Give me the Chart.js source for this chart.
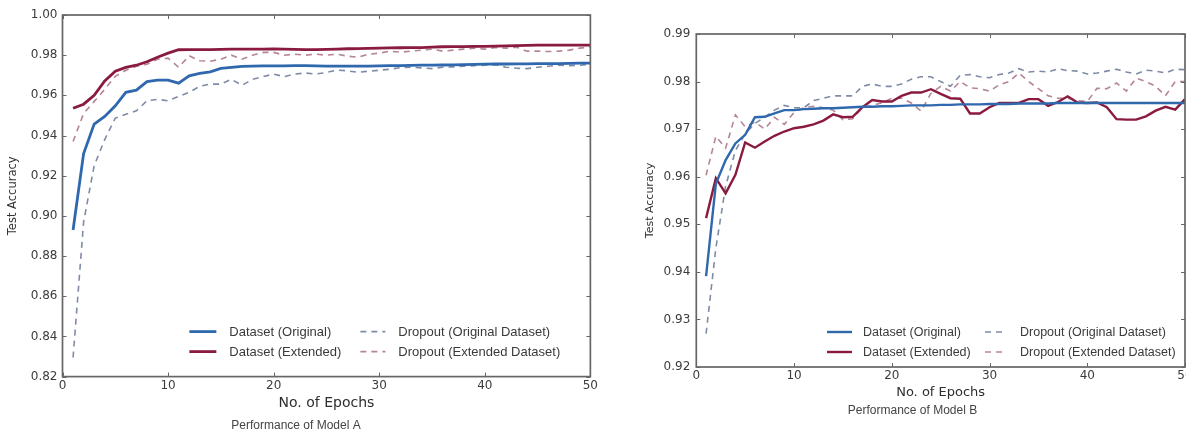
<!DOCTYPE html>
<html>
<head>
<meta charset="utf-8">
<script src="https://cdn.jsdelivr.net/npm/chart.js@4.4.1/dist/chart.umd.min.js"></script>
<style>
html, body { margin: 0; padding: 0; background: #fff; overflow: hidden; }
body { width: 1186px; height: 433px; position: relative; }
#boxA { position: absolute; left: 0; top: 0; }
#boxB { position: absolute; left: 600px; top: 0; }
</style>
</head>
<body>
<div id="boxA"><canvas id="chartA" width="600" height="433"></canvas></div>
<div id="boxB"><canvas id="chartB" width="600" height="433"></canvas></div>
<script>
// epochs on the x axis
const epochs = [1,2,3,4,5,6,7,8,9,10,11,12,13,14,15,16,17,18,19,20,21,22,23,24,25,
  26,27,28,29,30,31,32,33,34,35,36,37,38,39,40,41,42,43,44,45,46,47,48,49,50];

const seriesNames = ['Dataset (Original)', 'Dataset (Extended)', 'Dropout (Original Dataset)', 'Dropout (Extended Dataset)'];

// Model A
const aDataOrig = [
  0.893, 0.931, 0.9457, 0.9495, 0.9548, 0.9615, 0.9626, 0.9668, 0.9676, 0.9676,
  0.9661, 0.9697, 0.9709, 0.9717, 0.9734, 0.9739, 0.9744, 0.9746, 0.9747, 0.9747,
  0.9747, 0.9748, 0.9748, 0.9747, 0.9746, 0.9746, 0.9746, 0.9746, 0.9746, 0.9747,
  0.9748, 0.9748, 0.9749, 0.975, 0.975, 0.9751, 0.9752, 0.9753, 0.9754, 0.9755,
  0.9756, 0.9756, 0.9757, 0.9757, 0.9758, 0.9758, 0.9758, 0.9759, 0.976, 0.976];
const aDataExt = [
  0.9536, 0.9556, 0.96, 0.9672, 0.972, 0.9739, 0.975, 0.9767, 0.979, 0.981,
  0.9827, 0.9828, 0.9828, 0.9828, 0.9829, 0.983, 0.983, 0.983, 0.983, 0.9831,
  0.983, 0.9829, 0.9828, 0.9828, 0.9829, 0.983, 0.9832, 0.9833, 0.9834, 0.9835,
  0.9836, 0.9837, 0.9838, 0.9838, 0.984, 0.9842, 0.9843, 0.9843, 0.9844, 0.9844,
  0.9845, 0.9846, 0.9848, 0.9849, 0.985, 0.985, 0.985, 0.985, 0.985, 0.985];
const aDropOrig = [
  0.8295, 0.897, 0.925, 0.938, 0.9487, 0.9506, 0.9523, 0.9573, 0.958, 0.9573,
  0.9595, 0.9615, 0.9645, 0.9656, 0.9656, 0.968, 0.965, 0.968, 0.9693, 0.9706,
  0.9693, 0.9706, 0.9711, 0.9706, 0.9714, 0.9726, 0.9722, 0.9715, 0.972, 0.9725,
  0.973, 0.9738, 0.974, 0.9737, 0.9733, 0.974, 0.9742, 0.9745, 0.9748, 0.975,
  0.9752, 0.974, 0.9735, 0.9733, 0.974, 0.9745, 0.975, 0.9748, 0.975, 0.9755];
const aDropExt = [
  0.937, 0.951, 0.957, 0.963, 0.9695, 0.9725, 0.9745, 0.9755, 0.978, 0.9785,
  0.974, 0.9797, 0.9772, 0.977, 0.978, 0.98, 0.978, 0.98, 0.9814, 0.9814,
  0.98, 0.9805, 0.98, 0.9805, 0.98, 0.9805, 0.9795, 0.979, 0.9805, 0.981,
  0.982, 0.9815, 0.982, 0.9825, 0.983, 0.982, 0.9825, 0.983, 0.9835, 0.983,
  0.9838, 0.9835, 0.984, 0.982, 0.982, 0.9818, 0.982, 0.9825, 0.9835, 0.984];

// Model B
const bDataOrig = [
  0.9391, 0.9585, 0.9635, 0.967, 0.9688, 0.9725, 0.9726, 0.9733, 0.974, 0.974,
  0.9742, 0.9743, 0.9744, 0.9744, 0.9745, 0.9746, 0.9747, 0.9747, 0.9748, 0.9748,
  0.9749, 0.975, 0.975, 0.975, 0.9751, 0.9751, 0.9752, 0.9752, 0.9752, 0.9753,
  0.9753, 0.9753, 0.9754, 0.9754, 0.9754, 0.9754, 0.9755, 0.9755, 0.9755, 0.9755,
  0.9755, 0.9755, 0.9755, 0.9755, 0.9755, 0.9755, 0.9755, 0.9755, 0.9755, 0.9755];
const bDataExt = [
  0.9513, 0.9597, 0.9565, 0.9604, 0.9672, 0.9661, 0.9674, 0.9686, 0.9695, 0.9702,
  0.9705, 0.971, 0.9718, 0.9731, 0.9725, 0.9726, 0.9746, 0.9761, 0.9758, 0.9758,
  0.977, 0.9777, 0.9777, 0.9784, 0.9774, 0.9765, 0.9764, 0.9733, 0.9733, 0.9746,
  0.9755, 0.9755, 0.9755, 0.9763, 0.9763, 0.9749, 0.9757, 0.9769, 0.9756, 0.9755,
  0.9756, 0.9746, 0.9721, 0.972, 0.972, 0.9727, 0.9739, 0.9747, 0.9741, 0.9763];
const bDropOrig = [
  0.927, 0.945, 0.958, 0.9655, 0.969, 0.9712, 0.9725, 0.974, 0.975, 0.9745,
  0.9745, 0.976, 0.9765, 0.977, 0.977, 0.977, 0.979, 0.9795, 0.979, 0.979,
  0.9795, 0.9805, 0.981, 0.981, 0.98, 0.979, 0.9813, 0.9815, 0.981, 0.9808,
  0.9815, 0.9818, 0.9827, 0.982, 0.9822, 0.982, 0.9827, 0.9823, 0.9822, 0.9816,
  0.9818, 0.9822, 0.9826, 0.982, 0.9816, 0.9824, 0.9822, 0.9818, 0.9826, 0.9825];
const bDropExt = [
  0.9603, 0.9685, 0.966, 0.973, 0.9705, 0.9715, 0.97, 0.9725, 0.971, 0.9735,
  0.9745, 0.9748, 0.9745, 0.974, 0.972, 0.9722, 0.9745, 0.975, 0.9755, 0.9765,
  0.9765, 0.9755, 0.9738, 0.9775, 0.979, 0.978, 0.98, 0.9787, 0.9785, 0.978,
  0.9793, 0.98, 0.9818, 0.98, 0.9785, 0.977, 0.9765, 0.9765, 0.976, 0.9758,
  0.9786, 0.9785, 0.9797, 0.978, 0.9807, 0.98, 0.979, 0.977, 0.98, 0.98];

const colors = ['#2f68ad', '#8a1a3e', '#7f8ba6', '#b38596'];

// frame with inward ticks (matplotlib look) + legend inside the plot
const frameLegend = {
  id: 'frameLegend',
  afterDatasetsDraw(chart, args, opts) {
    const ctx = chart.ctx, a = chart.chartArea;
    const xs = chart.scales.x, ys = chart.scales.y;
    ctx.save();
    ctx.strokeStyle = '#666';
    ctx.lineWidth = 1;
    ctx.beginPath();
    xs.ticks.forEach(t => {
      const p = Math.round(xs.getPixelForValue(t.value)) + 0.5;
      ctx.moveTo(p, a.bottom); ctx.lineTo(p, a.bottom - 4);
      ctx.moveTo(p, a.top); ctx.lineTo(p, a.top + 4);
    });
    ys.ticks.forEach(t => {
      const p = Math.round(ys.getPixelForValue(t.value)) + 0.5;
      ctx.moveTo(a.left, p); ctx.lineTo(a.left + 4, p);
      ctx.moveTo(a.right, p); ctx.lineTo(a.right - 4, p);
    });
    ctx.stroke();
    ctx.strokeStyle = '#666';
    ctx.lineWidth = 1.7;
    ctx.strokeRect(a.left, a.top, a.right - a.left, a.bottom - a.top);

    ctx.font = opts.font;
    ctx.textBaseline = 'middle';
    ctx.textAlign = 'left';
    chart.data.datasets.forEach((ds, i) => {
      const col = Math.floor(i / 2), row = i % 2;
      const y = a.bottom - opts.rows[row];
      const x0 = a.right - opts.cols[col];
      const len = opts.sample[col];
      ctx.strokeStyle = ds.borderColor;
      ctx.lineWidth = ds.borderWidth;
      ctx.setLineDash(ds.borderDash || []);
      ctx.beginPath(); ctx.moveTo(x0, y); ctx.lineTo(x0 + len, y); ctx.stroke();
      ctx.setLineDash([]);
      ctx.fillStyle = '#3a3a3a';
      ctx.fillText(ds.label, x0 + len + opts.gap[col], y + 1);
    });
    ctx.restore();
  }
};

function makeSets(series, solidWidth) {
  return series.map((vals, i) => ({
    label: seriesNames[i],
    data: epochs.map((e, k) => ({ x: e, y: vals[k] })),
    borderColor: colors[i],
    borderWidth: i < 2 ? solidWidth : 1.6,
    borderDash: i < 2 ? [] : [6, 5],
    pointRadius: 0,
    tension: 0,
    fill: false
  }));
}

function makeChart(id, cfg) {
  return new Chart(document.getElementById(id).getContext('2d'), {
    type: 'line',
    data: { datasets: makeSets(cfg.series, cfg.solidWidth) },
    options: {
      responsive: false,
      animation: false,
      layout: { padding: cfg.padding },
      scales: {
        x: {
          type: 'linear', min: 0, max: 50,
          afterFit: s => { s.height = cfg.xHeight; },
          grid: { display: false, drawTicks: false },
          border: { display: false },
          ticks: { stepSize: 10, padding: 2, color: '#3c3c3c', font: { family: 'DejaVu Sans', size: 12 } },
          title: {
            display: true, text: 'No. of Epochs', color: '#2e2e2e',
            font: { family: 'DejaVu Sans', size: cfg.xTitleSize },
            padding: { top: 0, bottom: cfg.xTitlePad }
          }
        },
        y: {
          min: cfg.yMin, max: cfg.yMax,
          afterFit: s => { s.width = cfg.yWidth; },
          grid: { display: false, drawTicks: false },
          border: { display: false },
          ticks: {
            stepSize: cfg.yStep, padding: cfg.yTickPad, color: '#3c3c3c',
            font: { family: 'DejaVu Sans', size: 12 },
            callback: v => Number(v).toFixed(2)
          },
          title: {
            display: true, text: 'Test Accuracy', color: '#333',
            font: { family: 'DejaVu Sans', size: cfg.yTitleSize },
            padding: { top: cfg.yTitlePad, bottom: 0 }
          }
        }
      },
      plugins: {
        legend: { display: false },
        tooltip: { enabled: false },
        title: {
          display: true, position: 'bottom', text: cfg.caption, color: '#444',
          font: { family: 'Liberation Sans', size: 12, weight: 'normal' },
          padding: cfg.captionPad
        },
        frameLegend: cfg.legend
      }
    },
    plugins: [frameLegend]
  });
}

makeChart('chartA', {
  series: [aDataOrig, aDataExt, aDropOrig, aDropExt],
  solidWidth: 2.8,
  padding: { left: 0, right: 8, top: 15, bottom: 0 },
  xHeight: 37, xTitleSize: 14, xTitlePad: 1.6,
  yMin: 0.82, yMax: 1.0, yStep: 0.02, yWidth: 62.5, yTickPad: 5,
  yTitleSize: 11.5, yTitlePad: 6,
  caption: 'Performance of Model A',
  captionPad: { top: 5, bottom: 0 },
  legend: { font: '13px "Liberation Sans"', cols: [401, 230], sample: [27, 25], gap: [13, 13], rows: [45, 25] }
});

makeChart('chartB', {
  series: [bDataOrig, bDataExt, bDropOrig, bDropExt],
  solidWidth: 2.4,
  padding: { left: 40, right: 15, top: 34, bottom: 15.6 },
  xHeight: 35, xTitleSize: 13, xTitlePad: 1.4,
  yMin: 0.92, yMax: 0.99, yStep: 0.01, yWidth: 56.3, yTickPad: 6,
  yTitleSize: 11, yTitlePad: 4,
  caption: 'Performance of Model B',
  captionPad: { top: 1, bottom: 0 },
  legend: { font: '12.5px "Liberation Sans"', cols: [358, 200], sample: [25, 20], gap: [11, 15], rows: [35, 15] }
});
</script>
</body>
</html>
